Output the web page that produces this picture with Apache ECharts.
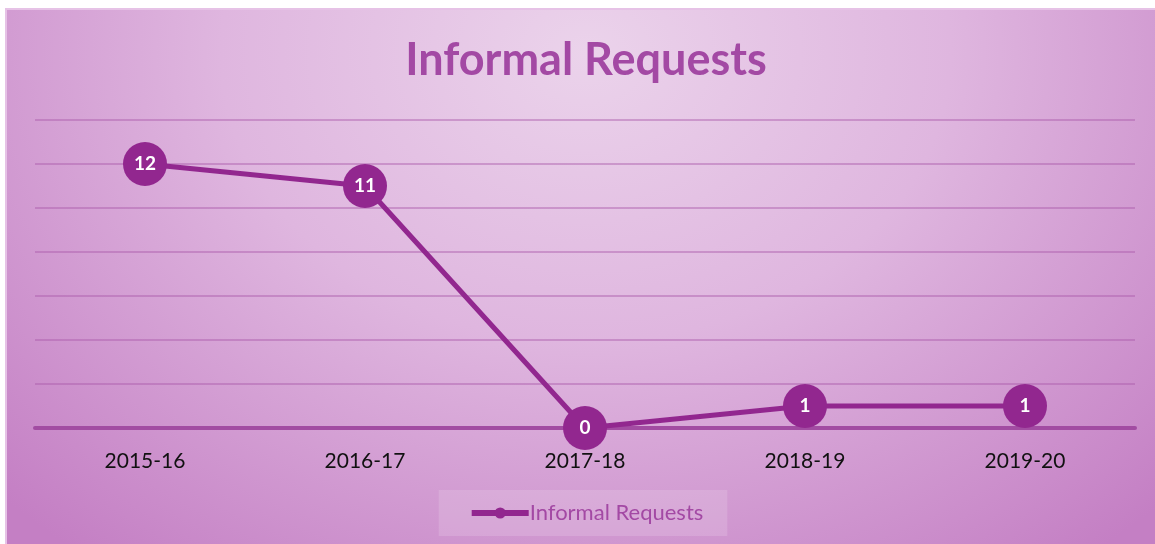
<!DOCTYPE html>
<html>
<head>
<meta charset="utf-8">
<script src="https://cdn.jsdelivr.net/npm/echarts@6/dist/echarts.min.js"></script>
<style>
  html, body { margin:0; padding:0; width:1155px; height:544px; overflow:hidden; background:#fff; }
  #main {
    position:absolute; left:5px; top:8px; width:1160px; height:536px;
    border-top:2px solid #e6c2e6; border-left:2px solid #e6c2e6; box-sizing:border-box;
    background: radial-gradient(ellipse 70% 120% at 50% 8%, #ebd3eb 0%, #dfb6df 45%, #c47fc4 100%);
  }
</style>
</head>
<body>
<div id="main"></div>
<script type="text/javascript">
  // 数据
  var years = ['2015-16', '2016-17', '2017-18', '2018-19', '2019-20'];
  var requests = [12, 11, 0, 1, 1];
  var seriesName = 'Informal Requests';

  var myChart = echarts.init(document.getElementById('main'));
  var option = {
    animation: false,
    title: {
      text: 'Informal Requests',
      left: 'center',
      top: 23,
      textStyle: { fontFamily: 'Lato', fontWeight: 'bold', fontSize: 45, color: '#a349a4' }
    },
    legend: {
      data: [seriesName],
      bottom: 8,
      left: 'center',
      backgroundColor: 'rgba(255,255,255,0.15)',
      padding: [12, 24, 12, 30],
      itemWidth: 57,
      itemHeight: 14,
      itemGap: 0,
      lineStyle: { width: 6 },
      textStyle: { fontFamily: 'Lato', fontSize: 22, color: '#a349a4', padding: [0, 0, 0, -4] }
    },
    grid: { left: 28, right: 30, top: 110, bottom: 116, containLabel: false },
    xAxis: {
      type: 'category',
      data: years,
      boundaryGap: true,
      axisLine: { lineStyle: { color: '#a24ca2', width: 4 } },
      axisTick: { show: false },
      axisLabel: { fontFamily: 'Lato', fontSize: 21, color: '#111', margin: 23 }
    },
    yAxis: {
      type: 'value',
      min: 0, max: 14, interval: 2,
      axisLine: { show: false },
      axisTick: { show: false },
      axisLabel: { show: false },
      splitLine: { lineStyle: { color: 'rgba(170,90,170,0.45)', width: 2 } }
    },
    series: [{
      name: seriesName,
      type: 'line',
      data: requests,
      symbol: 'circle',
      symbolSize: 44,
      lineStyle: { color: '#92278f', width: 5 },
      itemStyle: { color: '#92278f' },
      label: {
        show: true, position: 'inside',
        fontFamily: 'Lato', fontWeight: 'bold', fontSize: 19, color: '#ffffff'
      }
    }]
  };
  myChart.setOption(option);
</script>
</body>
</html>
